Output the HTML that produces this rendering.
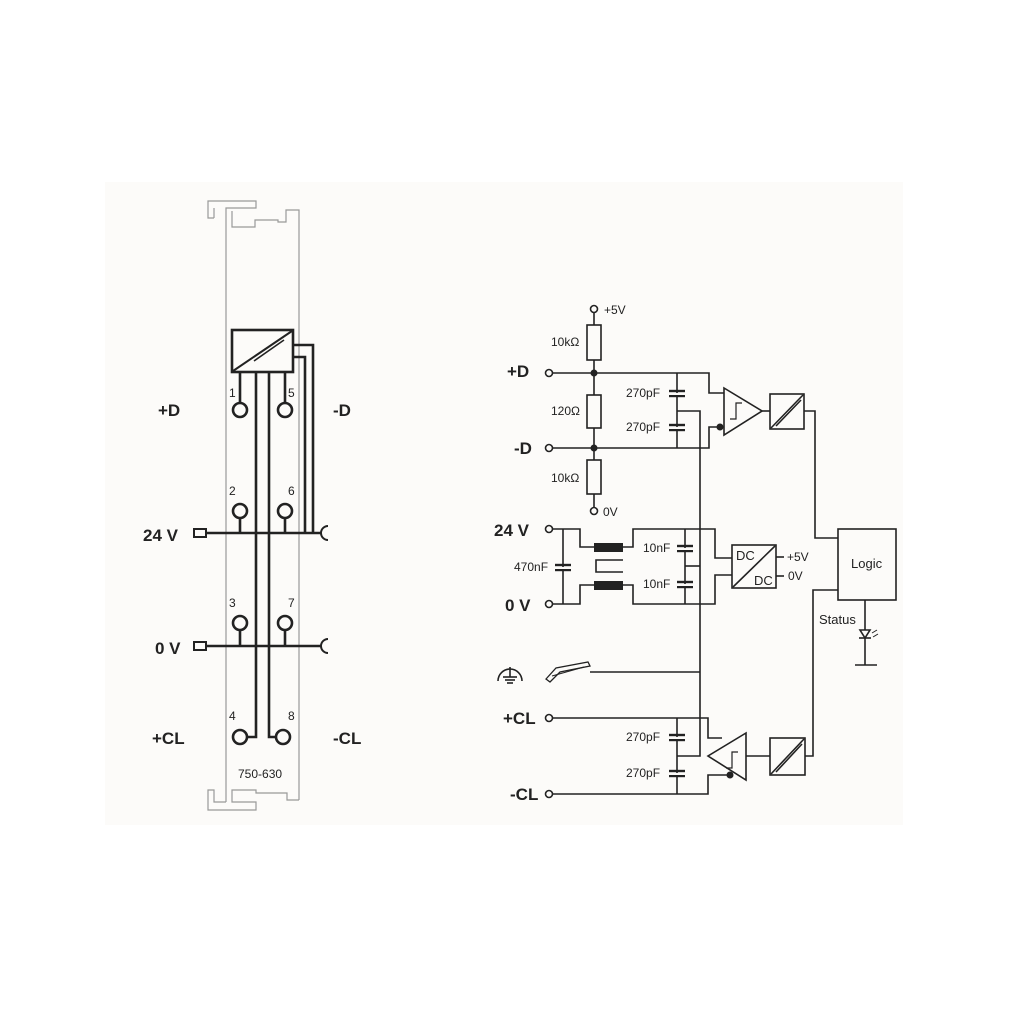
<!DOCTYPE html>
<html><head><meta charset="utf-8"><style>
html,body{margin:0;padding:0;background:#fff;}
svg{display:block;}
text{font-family:"Liberation Sans",sans-serif;fill:#222;}
</style></head><body>
<svg width="1010" height="1010" viewBox="0 0 1010 1010" xmlns="http://www.w3.org/2000/svg">
<rect x="105" y="182" width="798" height="643" fill="#fcfbf9"/>
<g fill="none" stroke="#999" stroke-width="1.2">
<polyline points="214,218 208,218 208,201 256,201 256,208 226,208 226,802"/>
<polyline points="214,218 214,208"/>
<polyline points="232,211 232,227 255,227 255,220 278,220 278,222 286,222 286,210 299,210 299,800"/>
<polyline points="226,802 214,802 214,790 208,790 208,810 256,810 256,802 232,802 232,790 256,790 256,793 287,793 287,800 299,800"/>
</g>
<g fill="none" stroke="#222" stroke-width="2.6">
<rect x="232" y="330" width="61" height="42" fill="#fcfbf9"/>
<line x1="233" y1="371" x2="292" y2="331" stroke-width="2"/>
<line x1="254" y1="361" x2="284" y2="340" stroke-width="1.6"/>
<polyline points="293,345 313,345 313,533"/>
<polyline points="293,357 305,357 305,533"/>
<line x1="240" y1="372" x2="240" y2="403"/>
<line x1="285" y1="372" x2="285" y2="403"/>
<polyline points="256,372 256,737 247,737"/>
<polyline points="269,372 269,737 276,737"/>
<circle cx="240" cy="410" r="7"/><circle cx="285" cy="410" r="7"/>
<circle cx="240" cy="511" r="7"/><circle cx="285" cy="511" r="7"/>
<circle cx="240" cy="623" r="7"/><circle cx="285" cy="623" r="7"/>
<circle cx="240" cy="737" r="7"/><circle cx="283" cy="737" r="7"/>
<line x1="240" y1="518" x2="240" y2="533"/><line x1="285" y1="518" x2="285" y2="533"/>
<line x1="240" y1="630" x2="240" y2="646"/><line x1="285" y1="630" x2="285" y2="646"/>
<line x1="207" y1="533" x2="321" y2="533"/>
<line x1="207" y1="646" x2="321" y2="646"/>
<rect x="194" y="529" width="12" height="8" stroke-width="2"/>
<rect x="194" y="642" width="12" height="8" stroke-width="2"/>
<path d="M328,526 A7,7 0 0 0 328,540" stroke-width="2"/>
<path d="M328,639 A7,7 0 0 0 328,653" stroke-width="2"/>
</g>
<g font-size="12">
<text x="229" y="397">1</text><text x="288" y="397">5</text>
<text x="229" y="495">2</text><text x="288" y="495">6</text>
<text x="229" y="607">3</text><text x="288" y="607">7</text>
<text x="229" y="720">4</text><text x="288" y="720">8</text>
<text x="238" y="778" font-size="12">750-630</text>
</g>
<g font-size="17" font-weight="bold">
<text x="158" y="416">+D</text><text x="333" y="416">-D</text>
<text x="143" y="541">24 V</text><text x="155" y="654">0 V</text>
<text x="152" y="744">+CL</text><text x="333" y="744">-CL</text>
<text x="507" y="377">+D</text><text x="514" y="454">-D</text>
<text x="494" y="536">24 V</text><text x="505" y="611">0 V</text>
<text x="503" y="724">+CL</text><text x="510" y="800">-CL</text>
</g>
<g fill="none" stroke="#222" stroke-width="1.6">
<circle cx="594" cy="309" r="3.5"/>
<line x1="594" y1="312" x2="594" y2="507"/>
<rect x="587" y="325" width="14" height="35" fill="#fcfbf9"/>
<rect x="587" y="395" width="14" height="33" fill="#fcfbf9"/>
<rect x="587" y="460" width="14" height="34" fill="#fcfbf9"/>
<circle cx="594" cy="511" r="3.5"/>
<circle cx="549" cy="373" r="3.5"/><circle cx="549" cy="448" r="3.5"/>
<polyline points="553,373 709,373 709,393 724,393"/>
<polyline points="553,448 709,448 709,427 720,427"/>
<line x1="677" y1="373" x2="677" y2="448"/>
<polyline points="677,411 700,411 700,756 677,756"/>
<polygon points="724,388 724,435 762,411"/>
<polyline points="730,419 736,419 736,403 742,403" stroke-width="1.2"/>
<line x1="762" y1="411" x2="770" y2="411"/>
<rect x="770" y="394" width="34" height="35"/>
<line x1="771" y1="428" x2="803" y2="395"/><line x1="776" y1="426" x2="801" y2="400"/>
<polyline points="804,411 815,411 815,538 838,538"/>
<rect x="838" y="529" width="58" height="71"/>
<circle cx="549" cy="529" r="3.5"/><circle cx="549" cy="604" r="3.5"/>
<polyline points="553,529 580,529 580,547 594,547"/>
<polyline points="553,604 580,604 580,585 594,585"/>
<line x1="563" y1="529" x2="563" y2="604"/>
<polyline points="623,547 633,547 633,529 715,529 715,558 732,558"/>
<polyline points="623,585 633,585 633,604 715,604 715,575 732,575"/>
<line x1="685" y1="529" x2="685" y2="604"/>
<line x1="685" y1="566" x2="700" y2="566"/>
<polyline points="623,560 596,560 596,572 623,572"/>
<rect x="732" y="545" width="44" height="43"/>
<line x1="733" y1="587" x2="775" y2="546"/>
<line x1="776" y1="557" x2="784" y2="557"/><line x1="776" y1="576" x2="784" y2="576"/>
<line x1="590" y1="672" x2="700" y2="672"/>
<circle cx="549" cy="718" r="3.5"/><circle cx="549" cy="794" r="3.5"/>
<polyline points="553,718 708,718 708,738 722,738"/>
<polyline points="553,794 708,794 708,775 730,775"/>
<line x1="677" y1="718" x2="677" y2="794"/>
<polygon points="746,733 746,780 708,756"/>
<polyline points="726,768 732,768 732,752 738,752" stroke-width="1.2"/>
<line x1="746" y1="756" x2="770" y2="756"/>
<rect x="770" y="738" width="35" height="37"/>
<line x1="771" y1="774" x2="804" y2="739"/><line x1="776" y1="772" x2="802" y2="744"/>
<polyline points="805,756 813,756 813,590 838,590"/>
<line x1="865" y1="600" x2="865" y2="665"/>
<line x1="855" y1="665" x2="877" y2="665"/>
<polygon points="860,630 870,630 865,638" fill="#fcfbf9"/>
<line x1="859" y1="638" x2="871" y2="638"/>
<line x1="872" y1="633" x2="877" y2="630" stroke-width="1"/><line x1="873" y1="637" x2="878" y2="634" stroke-width="1"/>
<path d="M498,681 A12,12 0 0 1 522,681"/>
<line x1="510" y1="667" x2="510" y2="677"/>
<line x1="503" y1="677" x2="517" y2="677"/><line x1="505" y1="680" x2="515" y2="680"/><line x1="507" y1="683" x2="513" y2="683"/>
<path d="M546,679 L556,668 L588,662 L590,666 L560,672 L550,682 Z" stroke-width="1.3"/>
<line x1="552" y1="676" x2="584" y2="667" stroke-width="1"/>
</g>
<g stroke="#222" stroke-width="2.4">
<line x1="669" y1="391" x2="685" y2="391"/><line x1="669" y1="396" x2="685" y2="396"/>
<line x1="669" y1="425" x2="685" y2="425"/><line x1="669" y1="430" x2="685" y2="430"/>
<line x1="555" y1="565" x2="571" y2="565"/><line x1="555" y1="570" x2="571" y2="570"/>
<line x1="677" y1="546" x2="693" y2="546"/><line x1="677" y1="551" x2="693" y2="551"/>
<line x1="677" y1="582" x2="693" y2="582"/><line x1="677" y1="587" x2="693" y2="587"/>
<line x1="669" y1="735" x2="685" y2="735"/><line x1="669" y1="740" x2="685" y2="740"/>
<line x1="669" y1="771" x2="685" y2="771"/><line x1="669" y1="776" x2="685" y2="776"/>
</g>
<rect x="669" y="393" width="16" height="2" fill="#fcfbf9"/><rect x="669" y="427" width="16" height="2" fill="#fcfbf9"/>
<rect x="555" y="567" width="16" height="2" fill="#fcfbf9"/>
<rect x="677" y="548" width="16" height="2" fill="#fcfbf9"/><rect x="677" y="584" width="16" height="2" fill="#fcfbf9"/>
<rect x="669" y="737" width="16" height="2" fill="#fcfbf9"/><rect x="669" y="773" width="16" height="2" fill="#fcfbf9"/>
<rect x="594" y="543" width="29" height="9" fill="#222"/>
<rect x="594" y="581" width="29" height="9" fill="#222"/>
<circle cx="594" cy="373" r="3.5" fill="#222"/><circle cx="594" cy="448" r="3.5" fill="#222"/>
<circle cx="720" cy="427" r="3.5" fill="#222"/><circle cx="730" cy="775" r="3.5" fill="#222"/>
<g font-size="12">
<text x="604" y="314">+5V</text>
<text x="551" y="346">10kΩ</text>
<text x="551" y="415">120Ω</text>
<text x="551" y="482">10kΩ</text>
<text x="603" y="516">0V</text>
<text x="626" y="397">270pF</text>
<text x="626" y="431">270pF</text>
<text x="514" y="571">470nF</text>
<text x="643" y="552">10nF</text>
<text x="643" y="588">10nF</text>
<text x="626" y="741">270pF</text>
<text x="626" y="777">270pF</text>
<text x="787" y="561">+5V</text>
<text x="788" y="580">0V</text>
<text x="736" y="560" font-size="13">DC</text>
<text x="754" y="585" font-size="13">DC</text>
<text x="851" y="568" font-size="13">Logic</text>
<text x="819" y="624" font-size="13">Status</text>
</g>
</svg>
</body></html>
